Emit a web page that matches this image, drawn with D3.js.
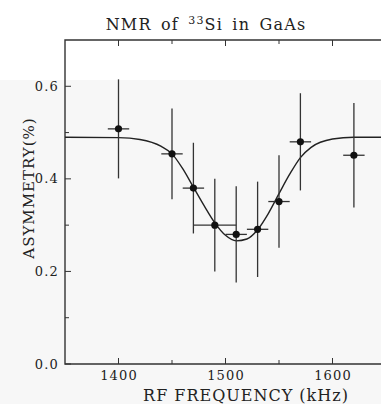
<!DOCTYPE html>
<html lang="en">
<head>
  <meta charset="UTF-8" />
  <title>NMR of 33Si in GaAs</title>
  <style>
    body {
      margin: 0;
      background: #fff;
    }
    svg {
      display: block;
      font-family: "DejaVu Serif", serif;
    }
    .err {
      stroke: #333;
      stroke-width: 1.3px;
    }
    .fit {
      fill: none;
      stroke: #222;
      stroke-width: 1.4px;
    }
  </style>
</head>
<body>
  <svg width="381" height="404"></svg>

  <script src="https://d3js.org/d3.v7.min.js"></script>
  <script>
    // measured points (kHz, %)
    const freq = [1400, 1450, 1470, 1490, 1510, 1530, 1550, 1570, 1620];
    const asym = [0.508, 0.454, 0.380, 0.300, 0.280, 0.291, 0.351, 0.480, 0.451];
    const yErr = [0.107, 0.098, 0.098, 0.100, 0.104, 0.103, 0.100, 0.105, 0.113];
    const xErr = [10, 10, 10, 20, 10, 10, 10, 10, 10];

    // fitted curve
    const fitFreq = [1350, 1400, 1420, 1440, 1450, 1460, 1470, 1480, 1490, 1500, 1510,
                     1520, 1530, 1540, 1550, 1560, 1570, 1580, 1600, 1620, 1650];
    const fitAsym = [0.490, 0.489, 0.485, 0.470, 0.454, 0.422, 0.382, 0.342, 0.305, 0.278, 0.266,
                     0.270, 0.290, 0.325, 0.368, 0.410, 0.446, 0.468, 0.486, 0.490, 0.490];

    const xMajor = [1400, 1500, 1600];
    const xMinor = [1450, 1550];
    const yMajor = [0.0, 0.2, 0.4, 0.6];
    const yMinor = [0.1, 0.3, 0.5];

    const svg = d3.select("svg");

    // faint scan tone below the top of the page
    svg.append("rect")
      .attr("x", 0).attr("y", 80)
      .attr("width", 381).attr("height", 324)
      .attr("fill", "#f7f7f7");

    const x = d3.scaleLinear().domain([1350, 1650]).range([65, 386]);
    const y = d3.scaleLinear().domain([0, 0.7]).range([364, 40]);

    const g = svg.append("g");

    // frame
    g.append("path")
      .attr("d", `M${x(1650)},${y(0.7)} H${x(1350)} V${y(0)} H${x(1650)}`)
      .attr("fill", "none")
      .attr("stroke", "#333")
      .attr("stroke-width", 1.4);

    // x ticks, bottom and top, pointing inward
    const xt = xMajor.map(v => ({v, len: 6})).concat(xMinor.map(v => ({v, len: 4})));
    g.selectAll(".xtb").data(xt).join("line")
      .attr("x1", d => x(d.v)).attr("x2", d => x(d.v))
      .attr("y1", y(0)).attr("y2", d => y(0) - d.len)
      .attr("stroke", "#333");
    g.selectAll(".xtt").data(xt).join("line")
      .attr("x1", d => x(d.v)).attr("x2", d => x(d.v))
      .attr("y1", y(0.7)).attr("y2", d => y(0.7) + d.len)
      .attr("stroke", "#333");

    // y ticks, pointing inward
    const yt = yMajor.map(v => ({v, len: 6})).concat(yMinor.map(v => ({v, len: 4})));
    g.selectAll(".ytl").data(yt).join("line")
      .attr("x1", x(1350)).attr("x2", d => x(1350) + d.len)
      .attr("y1", d => y(d.v)).attr("y2", d => y(d.v))
      .attr("stroke", "#333");

    // tick labels
    g.selectAll(".xl").data(xMajor).join("text")
      .attr("x", d => x(d) + 0.6).attr("y", 380)
      .attr("text-anchor", "middle")
      .attr("font-size", 13)
      .attr("letter-spacing", 1.2)
      .attr("fill", "#222")
      .text(d => d);
    g.selectAll(".yl").data(yMajor).join("text")
      .attr("x", 59).attr("y", d => y(d) + 4.5)
      .attr("text-anchor", "end")
      .attr("font-size", 13)
      .attr("letter-spacing", 1.2)
      .attr("fill", "#222")
      .text(d => d.toFixed(1));

    // fit curve
    const line = d3.line()
      .x(i => x(fitFreq[i]))
      .y(i => y(fitAsym[i]))
      .curve(d3.curveMonotoneX);
    g.append("path")
      .attr("class", "fit")
      .attr("d", line(d3.range(fitFreq.length)));

    // error bars and points
    const idx = d3.range(freq.length);
    g.selectAll(".ev").data(idx).join("line")
      .attr("class", "err")
      .attr("x1", i => x(freq[i])).attr("x2", i => x(freq[i]))
      .attr("y1", i => y(asym[i] + yErr[i])).attr("y2", i => y(asym[i] - yErr[i]));
    g.selectAll(".eh").data(idx).join("line")
      .attr("class", "err")
      .attr("x1", i => x(freq[i] - xErr[i])).attr("x2", i => x(freq[i] + xErr[i]))
      .attr("y1", i => y(asym[i])).attr("y2", i => y(asym[i]));
    g.selectAll(".pt").data(idx).join("circle")
      .attr("cx", i => x(freq[i]))
      .attr("cy", i => y(asym[i]))
      .attr("r", 3.6)
      .attr("fill", "#111");

    // title and axis labels
    const title = svg.append("text")
      .attr("x", 206).attr("y", 30)
      .attr("text-anchor", "middle")
      .attr("font-size", 16)
      .attr("letter-spacing", 1.2)
      .attr("word-spacing", 3)
      .attr("fill", "#222");
    title.append("tspan").text("NMR of ");
    title.append("tspan").attr("font-size", 11).attr("dy", -6).text("33");
    title.append("tspan").attr("dy", 6).text("Si in GaAs");

    svg.append("text")
      .attr("x", 246).attr("y", 401)
      .attr("text-anchor", "middle")
      .attr("font-size", 16)
      .attr("letter-spacing", 1)
      .attr("fill", "#222")
      .text("RF FREQUENCY (kHz)");

    svg.append("text")
      .attr("transform", "translate(34,188) rotate(-90)")
      .attr("text-anchor", "middle")
      .attr("font-size", 15)
      .attr("letter-spacing", 1)
      .attr("fill", "#222")
      .text("ASYMMETRY(%)");
  </script>
</body>
</html>
